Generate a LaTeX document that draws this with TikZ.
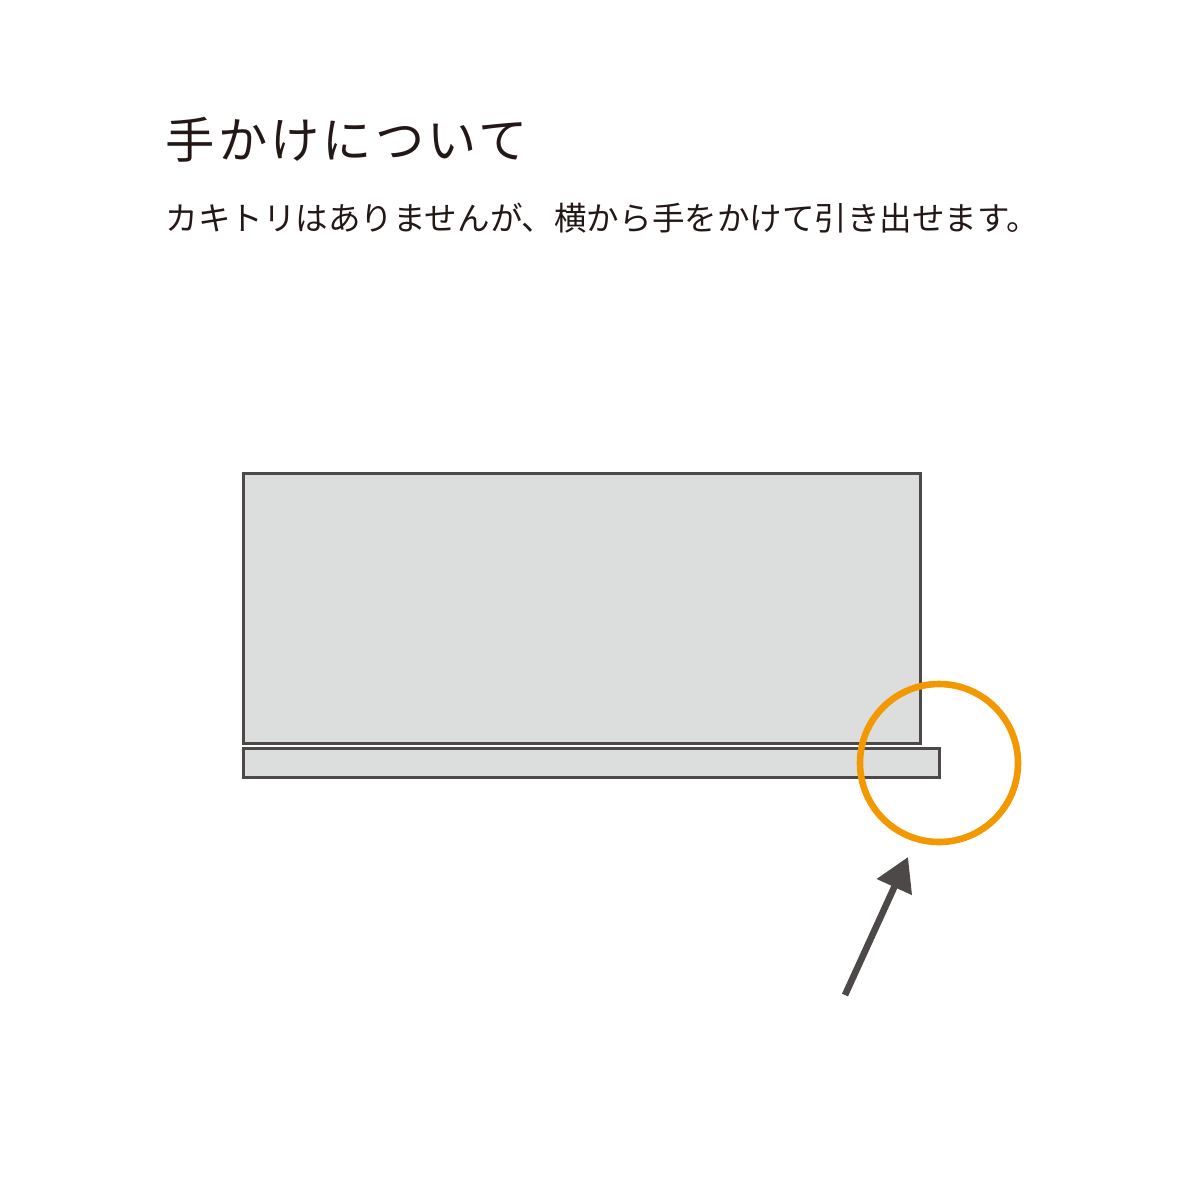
\documentclass[tikz,border=0pt]{standalone}
\usepackage{fontspec}
\usepackage{tikz}
\usepackage{xcolor}
\usetikzlibrary{arrows.meta}
\newfontfamily\jpfont{Noto Sans CJK JP}
\newfontfamily\jpwidefont[LetterSpace=6.5]{Noto Sans CJK JP}
\definecolor{textcol}{HTML}{231815}
\definecolor{linecol}{HTML}{4C4948}
\definecolor{fillcol}{HTML}{DCDDDD}
\definecolor{ringcol}{HTML}{F39800}

\begin{document}
\begin{tikzpicture}[x=0.01cm, y=-0.01cm,
	box/.style={draw=linecol, fill=fillcol, line width=0.03cm},
	ring/.style={draw=ringcol, line width=0.066cm},
	pointer/.style={draw=linecol, line width=0.066cm, -{Triangle[length=0.33cm, width=0.37cm]}},
	label/.style={anchor=base west, inner sep=0pt, text=textcol}]
	\useasboundingbox (0,0) rectangle (1200,1200);
	% ueberschrift und text
	\node[label, font=\jpwidefont\fontsize{14pt}{16pt}\selectfont] (title) at (165,158) {手かけについて};
	\node[label, font=\jpfont\fontsize{9.25pt}{11pt}\selectfont] (note) at (165,230) {カキトリはありませんが、横から手をかけて引き出せます。};
	% kasten und boden
	\draw[box] (243,473) rectangle (920,743);
	\draw[box] (243,748) rectangle (939,777);
	% markierung
	\draw[ring] (939,763) circle (79);
	% pfeil
	\coordinate (tail) at (845,995);
	\coordinate (tip) at (908,857);
	\draw[pointer] (tail) -- (tip);
\end{tikzpicture}
\end{document}
